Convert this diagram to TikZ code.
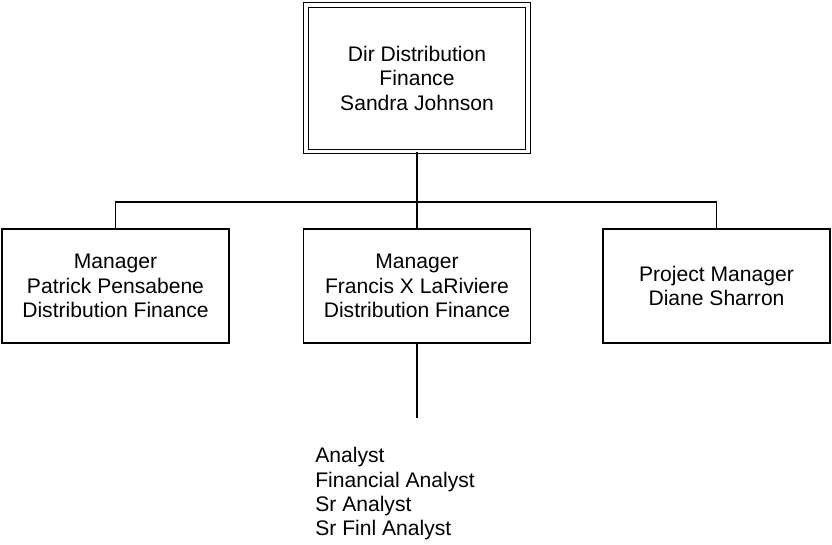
\documentclass[tikz,border=0pt]{standalone}
\usepackage{fontspec}
\setmainfont{Liberation Sans}
\usetikzlibrary{positioning, calc}

\begin{document}
\begin{tikzpicture}[
    font=\fontsize{12}{13.9}\selectfont,
    % ── shared styles ──
    org box/.style={draw=black, line width=0.9pt, fill=white, align=center,
        minimum width=4.54cm, minimum height=2.28cm, inner sep=2pt},
    lead box/.style={org box, double, double distance=1.8pt, line width=0.8pt,
        minimum width=4.44cm, minimum height=2.93cm},
    org link/.style={draw=black, line width=0.9pt},
    staff list/.style={align=left, inner sep=0pt, anchor=north west},
]

% ══════════════════════════════════════════════════════════════════════
%  DIMENSIONS
% ══════════════════════════════════════════════════════════════════════
\def\busY{-4.04}
\def\rowY{-5.72}
\def\midX{8.34}
\useasboundingbox (0,0) rectangle (16.64,-10.88);

% ══════════════════════════════════════════════════════════════════════
%  BOXES
% ══════════════════════════════════════════════════════════════════════
\node[lead box] (dir) at (\midX,-1.565) {Dir Distribution\\Finance\\Sandra Johnson};

\node[org box] (mgrPP) at (2.31,\rowY)  {Manager\\Patrick Pensabene\\Distribution Finance};
\node[org box] (mgrFL) at (\midX,\rowY) {Manager\\Francis X LaRiviere\\Distribution Finance};
\node[org box] (pmDS)  at (14.33,\rowY) {Project Manager\\Diane Sharron};

\coordinate (bus)  at (\midX,\busY);
\coordinate (tail) at (\midX,-8.36);

% ── staff under LaRiviere ──
\node[staff list] (staff) at (6.30,-8.94)
    {Analyst\\Financial Analyst\\Sr Analyst\\Sr Finl Analyst};

% ══════════════════════════════════════════════════════════════════════
%  CONNECTORS
% ══════════════════════════════════════════════════════════════════════
\draw[org link] (dir.south) -- (mgrFL.north);
\draw[org link] (mgrPP.north) -- (mgrPP.north |- bus) -- (pmDS.north |- bus) -- (pmDS.north);
\draw[org link] (mgrFL.south) -- (tail);

\end{tikzpicture}
\end{document}
